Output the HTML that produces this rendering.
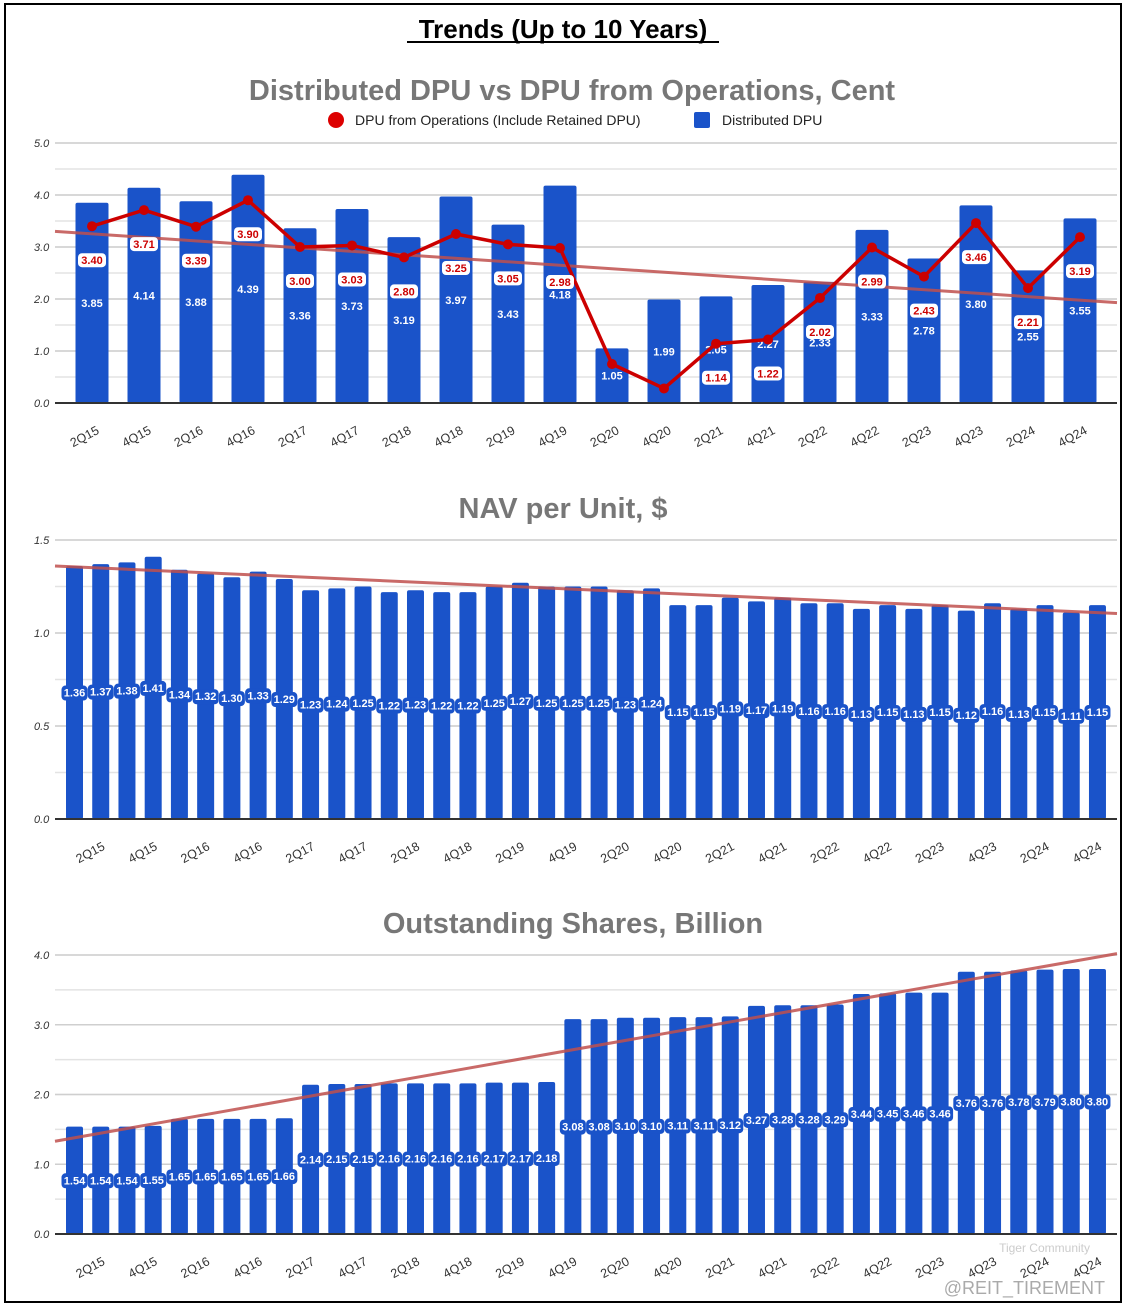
<!DOCTYPE html>
<html><head><meta charset="utf-8"><style>
html,body{margin:0;padding:0;background:#fff}
svg{display:block;font-family:"Liberation Sans",Arial,sans-serif}
</style></head><body>
<svg id="s" width="1126" height="1312" viewBox="0 0 1126 1312">
<rect x="5" y="4" width="1116" height="1298" fill="#fff" stroke="#000" stroke-width="2"/>
<text x="563" y="38" text-anchor="middle" font-size="26" font-weight="bold" fill="#000">Trends (Up to 10 Years)</text>
<line x1="407" y1="42" x2="719" y2="42" stroke="#000" stroke-width="2"/>
<text x="572" y="100" text-anchor="middle" font-size="29" font-weight="bold" fill="#777">Distributed DPU vs DPU from Operations, Cent</text>
<g>
<circle cx="336" cy="120" r="8" fill="#d00"/>
<text x="355" y="125" font-size="14" fill="#222">DPU from Operations (Include Retained DPU)</text>
<rect x="694" y="112" width="16" height="16" rx="2" fill="#1a53c9"/>
<text x="722" y="125" font-size="14" fill="#222">Distributed DPU</text>
</g>
<text x="563" y="518" text-anchor="middle" font-size="29" font-weight="bold" fill="#777">NAV per Unit, $</text>
<text x="573" y="933" text-anchor="middle" font-size="29" font-weight="bold" fill="#777">Outstanding Shares, Billion</text>
<text x="1105" y="1294" text-anchor="end" font-size="18" fill="#aaa">@REIT_TIREMENT</text>
<text x="1090" y="1252" text-anchor="end" font-size="12" fill="#ccc">Tiger Community</text>
</svg>
<script>
const dpuCats=["2Q15","4Q15","2Q16","4Q16","2Q17","4Q17","2Q18","4Q18","2Q19","4Q19","2Q20","4Q20","2Q21","4Q21","2Q22","4Q22","2Q23","4Q23","2Q24","4Q24"];
const distDpu=[3.85,4.14,3.88,4.39,3.36,3.73,3.19,3.97,3.43,4.18,1.05,1.99,2.05,2.27,2.33,3.33,2.78,3.80,2.55,3.55];
const opsDpu=[3.40,3.71,3.39,3.90,3.00,3.03,2.80,3.25,3.05,2.98,0.75,0.28,1.14,1.22,2.02,2.99,2.43,3.46,2.21,3.19];
const opsShowLabel=[1,1,1,1,1,1,1,1,1,1,0,0,1,1,1,1,1,1,1,1];
const dpuTrend=[3.30,1.93];
const dpuTicks=["0.0","1.0","2.0","3.0","4.0","5.0"];
const qCats=[];for(let y=15;y<=24;y++){for(let q=1;q<=4;q++)qCats.push(q+"Q"+y);}
const navVals=[1.36,1.37,1.38,1.41,1.34,1.32,1.30,1.33,1.29,1.23,1.24,1.25,1.22,1.23,1.22,1.22,1.25,1.27,1.25,1.25,1.25,1.23,1.24,1.15,1.15,1.19,1.17,1.19,1.16,1.16,1.13,1.15,1.13,1.15,1.12,1.16,1.13,1.15,1.11,1.15];
const navTrend=[1.36,1.105];
const navTicks=["0.0","0.5","1.0","1.5"];
const shareVals=[1.54,1.54,1.54,1.55,1.65,1.65,1.65,1.65,1.66,2.14,2.15,2.15,2.16,2.16,2.16,2.16,2.17,2.17,2.18,3.08,3.08,3.10,3.10,3.11,3.11,3.12,3.27,3.28,3.28,3.29,3.44,3.45,3.46,3.46,3.76,3.76,3.78,3.79,3.80,3.80];
const shareTrend=[1.33,4.02];
const shareTicks=["0.0","1.0","2.0","3.0","4.0"];

const NS="http://www.w3.org/2000/svg",S=document.getElementById('s');
function mk(t,a,p){const e=document.createElementNS(NS,t);for(const k in a)e.setAttribute(k,a[k]);(p||S).appendChild(e);return e;}

function chart(o){
  const g=mk('g',{});
  
  
  const y=v=>o.y0-(v/o.max)*(o.y0-o.yTop);
  const x=i=>o.x0+i*o.step;
  for(let v=0;v<=o.max+1e-9;v+=o.minor){
    const l=mk('line',{x1:55,x2:1117,y1:y(v),y2:y(v),stroke:'#e3e3e3','stroke-width':1.5},g);
    
    
  }
  o.ticks.forEach(t=>{
    const v=parseFloat(t);
    const l=mk('line',{x1:55,x2:1117,y1:y(v),y2:y(v),stroke:'#cfcfcf','stroke-width':1.5},g);
    
    
    const tx=mk('text',{x:34,y:y(v)+4,'font-size':11,'font-style':'italic',fill:'#333'},g);
    tx.textContent=t;
    
    
  });
  o.vals.forEach((v,i)=>{
    const r=mk('rect',{x:x(i)-o.bw/2,y:y(v),width:o.bw,height:o.y0-y(v),rx:2,fill:'#1a53c9'},g);
    
    
  });
  const ax=mk('line',{x1:55,x2:1117,y1:o.y0,y2:o.y0,stroke:'#333','stroke-width':2},g);
  
  
  o.vals.forEach((v,i)=>{
    const ly=y(v/2)+4;
    if(o.labelBg){
      const b=mk('rect',{x:x(i)-13,y:ly-11,width:26,height:15,rx:4,fill:'#1a53c9'},g);
      
      
    }
    const t=mk('text',{x:x(i),y:ly,'text-anchor':'middle','font-size':11,'font-weight':'bold',fill:'#fff'},g);
    t.textContent=v.toFixed(2);
    
    
  });
  o.xl.forEach(([i,txt])=>{
    const px=x(i)+o.lxo, py=o.y0+30;
    const t=mk('text',{x:px,y:py,'text-anchor':'end','font-size':12.5,fill:'#333',transform:`rotate(-28 ${px} ${py})`},g);
    t.textContent=txt;
    
    
  });
  const tl=mk('line',{x1:55,x2:1117,y1:y(o.trend[0]),y2:y(o.trend[1]),stroke:'#c0504d','stroke-opacity':0.85,'stroke-width':3},g);
  
  
  return {g,x,y};
}

const c1=chart({name:'dpu-chart',cats:dpuCats,vals:distDpu,max:5,y0:403,yTop:143,minor:0.5,ticks:dpuTicks,x0:92,step:52,bw:33,trend:dpuTrend,labelBg:false,
  xl:dpuCats.map((c,i)=>[i,c]),lxo:8});
let d='';opsDpu.forEach((v,i)=>{d+=(i?'L':'M')+c1.x(i)+' '+c1.y(v);});
const pl=mk('path',{d:d,fill:'none',stroke:'#cc0000','stroke-width':3.5,'stroke-linejoin':'round'},c1.g);


opsDpu.forEach((v,i)=>{
  const c=mk('circle',{cx:c1.x(i),cy:c1.y(v),r:5,fill:'#cc0000'},c1.g);
  
  
  if(opsShowLabel[i]){
    const ly=c1.y(v)+38;
    const b=mk('rect',{x:c1.x(i)-14,y:ly-11,width:28,height:14,rx:4,fill:'#fff'},c1.g);
    
    
    const t=mk('text',{x:c1.x(i),y:ly,'text-anchor':'middle','font-size':11,'font-weight':'bold',fill:'#cc0000'},c1.g);
    t.textContent=v.toFixed(2);
    
    
  }
});

const half=dpuCats.map((c,k)=>[2*k+1,c]);
chart({name:'nav-chart',cats:qCats,vals:navVals,max:1.5,y0:819,yTop:540,minor:0.25,ticks:navTicks,x0:74.5,step:26.23,bw:17,trend:navTrend,labelBg:true,xl:half,lxo:5});
chart({name:'shares-chart',cats:qCats,vals:shareVals,max:4,y0:1234,yTop:955,minor:0.5,ticks:shareTicks,x0:74.5,step:26.23,bw:17,trend:shareTrend,labelBg:true,xl:half,lxo:5});
</script>
</body></html>
